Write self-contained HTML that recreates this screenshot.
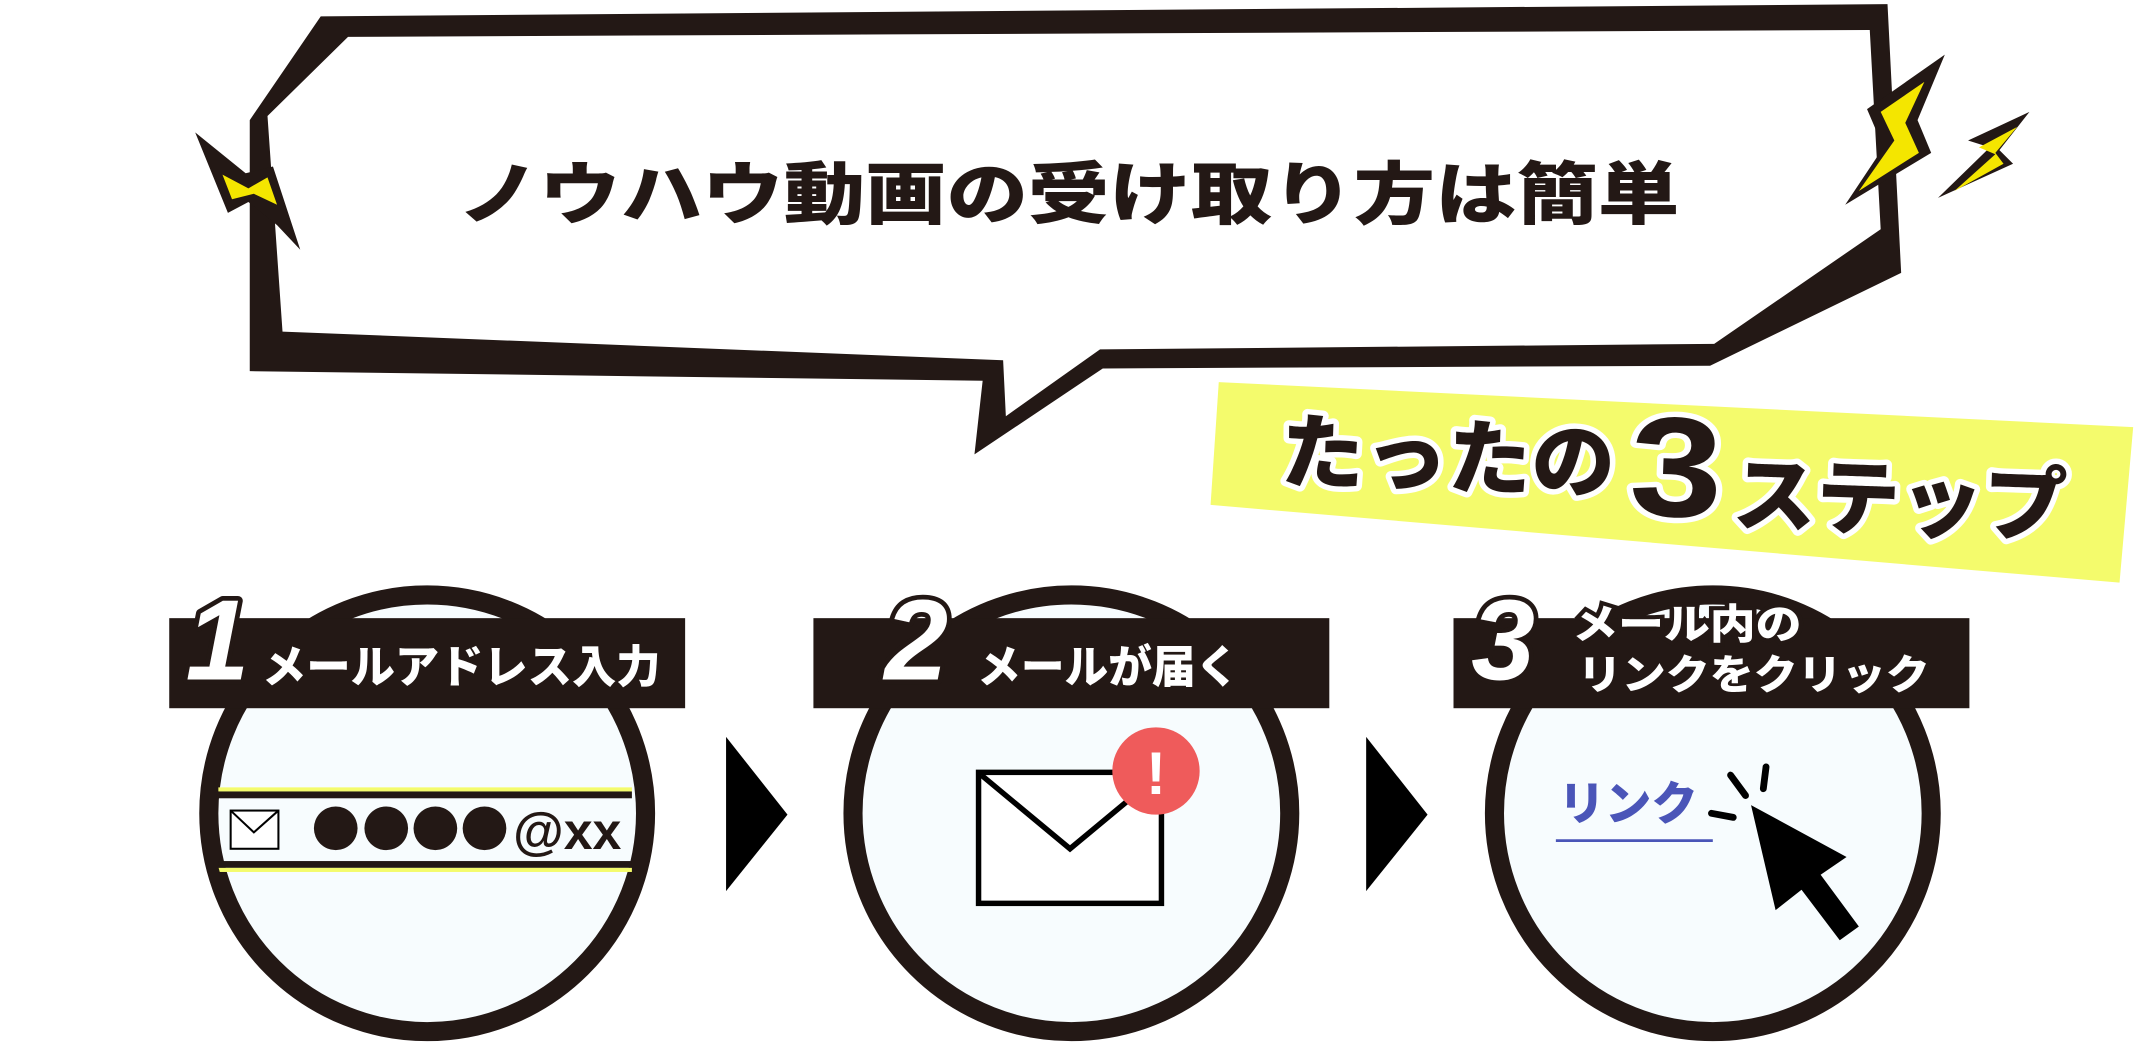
<!DOCTYPE html>
<html><head><meta charset="utf-8"><style>
html,body{margin:0;padding:0;background:#fff;}
svg{display:block;}
text{font-family:"Liberation Sans","Noto Sans CJK JP",sans-serif;font-weight:900;}
</style></head><body>
<svg width="2140" height="1048" viewBox="0 0 1568 768" preserveAspectRatio="none" xmlns="http://www.w3.org/2000/svg">
<defs>
<clipPath id="c1"><circle cx="313" cy="596" r="158"/></clipPath>
<clipPath id="c2"><circle cx="785" cy="596" r="158"/></clipPath>
<clipPath id="c3"><circle cx="1255" cy="596" r="158"/></clipPath>
</defs>
<polygon points="235,12 1383,3 1393,200 1253,268 808,270 714,333 720,279 183,272 183,88" fill="#231815"/>
<polygon points="255,27 1370,22 1378,168 1256,252 806,256 737,305 735,264 207,243 196,85" fill="#fff"/>
<text x="783" y="160" font-size="50" text-anchor="middle" fill="#231815" textLength="895" lengthAdjust="spacingAndGlyphs">ノウハウ動画の受け取り方は簡単</text>
<polygon points="143,97 180,127 200,122 220,183 203,165 182,148 167,156" fill="#231815"/>
<polygon points="163,128 182,138 196,130 203,150 186,142 170,146" fill="#f4e600"/>
<polygon points="1352,150 1380,108 1368,80 1425,40 1405,88 1415,112" fill="#231815"/>
<polygon points="1362,140 1388,103 1378,82 1410,60 1396,90 1406,112" fill="#f4e600"/>
<polygon points="1420,145 1458,108 1442,103 1487,82 1465,110 1475,120" fill="#231815"/>
<polygon points="1432,140 1462,113 1450,108 1478,93 1462,112 1468,120" fill="#f4e600"/>
<polygon points="893,280 1563,313 1553,427 887,370" fill="#f4fb6c"/>
<g stroke="#fff" stroke-width="8" stroke-linejoin="round" paint-order="stroke" fill="#231815" transform="rotate(2 1220 350)">
<text x="938" y="362" font-size="60" textLength="245" lengthAdjust="spacingAndGlyphs">たったの</text>
<text x="1194" y="378" font-size="104" textLength="68" lengthAdjust="spacingAndGlyphs">3</text>
<text x="1270" y="382" font-size="60" textLength="245" lengthAdjust="spacingAndGlyphs">ステップ</text>
</g>
<polygon points="532,540 577,597 532,653" fill="#000"/>
<polygon points="1001,540 1046,597 1001,653" fill="#000"/>
<g fill="#f7fcfe" stroke="#231815" stroke-width="14">
<circle cx="313" cy="596" r="160"/>
<circle cx="785" cy="596" r="160"/>
<circle cx="1255" cy="596" r="160"/>
</g>
<g clip-path="url(#c1)">
<rect x="160" y="577" width="303" height="3" fill="#f4fb6c"/>
<rect x="160" y="580" width="303" height="5" fill="#231815"/>
<rect x="160" y="631" width="303" height="5" fill="#231815"/>
<rect x="160" y="636" width="303" height="3" fill="#f4fb6c"/>
<rect x="169" y="594" width="35" height="28" fill="#fff" stroke="#000" stroke-width="1.5"/>
<polyline points="169,594 186,610 204,594" fill="none" stroke="#000" stroke-width="1.5"/>
<circle cx="246" cy="607" r="16" fill="#231815"/>
<circle cx="283" cy="607" r="16" fill="#231815"/>
<circle cx="319" cy="607" r="16" fill="#231815"/>
<circle cx="355" cy="607" r="16" fill="#231815"/>
<text x="376" y="622" font-size="38" fill="#231815" font-family="Liberation Sans" font-weight="700">@xx</text>
</g>
<g clip-path="url(#c2)">
<polyline points="720,572 784,635 848,572" fill="none" stroke="#ccc" stroke-width="5"/>
<rect x="717" y="566" width="134" height="96" fill="#fff" stroke="#000" stroke-width="4"/>
<polyline points="719,568 784,622 849,568" fill="none" stroke="#000" stroke-width="4"/>
<circle cx="847" cy="565" r="32" fill="#ef5b5b"/>
<text x="847" y="582" font-size="44" fill="#fff" text-anchor="middle">!</text>
</g>
<g clip-path="url(#c3)">
<text x="1142" y="601" font-size="34" fill="#4a55b8" font-weight="400">リンク</text>
<line x1="1140" y1="616" x2="1255" y2="616" stroke="#4a55b8" stroke-width="2"/>
<g stroke="#000" stroke-width="5" stroke-linecap="round">
<line x1="1268" y1="568" x2="1279" y2="583"/>
<line x1="1294" y1="562" x2="1292" y2="578"/>
<line x1="1254" y1="596" x2="1270" y2="599"/>
</g>
<polygon points="1283,590 1353,628 1334,641 1362,679 1348,689 1320,652 1301,667" fill="#000"/>
</g>
<rect x="124" y="453" width="378" height="66" fill="#231815"/>
<rect x="596" y="453" width="378" height="66" fill="#231815"/>
<rect x="1065" y="453" width="378" height="66" fill="#231815"/>
<g fill="#fff" stroke="#231815" stroke-width="7" stroke-linejoin="round" paint-order="stroke">
<text x="136" y="498" font-size="84" font-style="italic">1</text>
<text x="648" y="498" font-size="84" font-style="italic">2</text>
<text x="1078" y="498" font-size="84" font-style="italic">3</text>
</g>
<g fill="#fff">
<text x="192" y="500" font-size="33" textLength="292" lengthAdjust="spacingAndGlyphs">メールアドレス入力</text>
<text x="716" y="500" font-size="33" textLength="192" lengthAdjust="spacingAndGlyphs">メールが届く</text>
<text x="1152" y="468" font-size="30" stroke="#231815" stroke-width="6" paint-order="stroke" textLength="168" lengthAdjust="spacingAndGlyphs">メール内の</text>
<text x="1156" y="505" font-size="30" textLength="258" lengthAdjust="spacingAndGlyphs">リンクをクリック</text>
</g>
</svg>
</body></html>
